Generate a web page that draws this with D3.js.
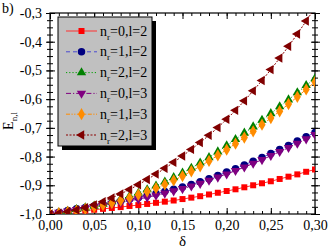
<!DOCTYPE html>
<html>
<head>
<meta charset="utf-8">
<script src="https://cdn.jsdelivr.net/npm/d3@7"></script>
<style>
  html, body { margin: 0; padding: 0; background: #fff; }
</style>
</head>
<body>
<div id="chartContainer"></div>
<script>
// delta values, 0.00 .. 0.30 step 0.01
const deltas = [0.00, 0.01, 0.02, 0.03, 0.04, 0.05, 0.06, 0.07, 0.08, 0.09, 0.10,
  0.11, 0.12, 0.13, 0.14, 0.15, 0.16, 0.17, 0.18, 0.19, 0.20,
  0.21, 0.22, 0.23, 0.24, 0.25, 0.26, 0.27, 0.28, 0.29, 0.30];

// energies
const nr0l2 = [-1.000, -0.997, -0.994, -0.991, -0.988, -0.985, -0.982, -0.979, -0.976, -0.972, -0.969,
  -0.965, -0.961, -0.957, -0.953, -0.948, -0.943, -0.938, -0.932, -0.926, -0.920,
  -0.914, -0.907, -0.900, -0.893, -0.886, -0.878, -0.870, -0.862, -0.853, -0.845];
const nr1l2 = [-1.000, -0.994, -0.988, -0.982, -0.977, -0.972, -0.966, -0.961, -0.955, -0.949, -0.943,
  -0.936, -0.929, -0.922, -0.914, -0.906, -0.897, -0.888, -0.877, -0.866, -0.854,
  -0.842, -0.829, -0.816, -0.803, -0.789, -0.775, -0.761, -0.746, -0.731, -0.716];
const nr2l2 = [-1.000, -0.995, -0.990, -0.984, -0.978, -0.972, -0.965, -0.957, -0.948, -0.938, -0.927,
  -0.915, -0.902, -0.888, -0.873, -0.857, -0.840, -0.822, -0.803, -0.783, -0.762,
  -0.740, -0.718, -0.696, -0.673, -0.650, -0.626, -0.602, -0.577, -0.552, -0.528];
const nr0l3 = [-1.000, -0.995, -0.990, -0.985, -0.980, -0.975, -0.970, -0.965, -0.960, -0.954, -0.948,
  -0.942, -0.935, -0.928, -0.920, -0.912, -0.903, -0.894, -0.883, -0.872, -0.861,
  -0.849, -0.837, -0.824, -0.811, -0.797, -0.783, -0.769, -0.754, -0.739, -0.724];
const nr1l3 = [-1.000, -0.997, -0.993, -0.988, -0.982, -0.976, -0.969, -0.962, -0.953, -0.944, -0.933,
  -0.922, -0.910, -0.897, -0.883, -0.868, -0.851, -0.834, -0.815, -0.796, -0.776,
  -0.755, -0.734, -0.712, -0.689, -0.666, -0.642, -0.617, -0.592, -0.566, -0.540];
const nr2l3 = [-1.000, -0.997, -0.992, -0.986, -0.978, -0.968, -0.957, -0.944, -0.930, -0.915, -0.898,
  -0.880, -0.861, -0.841, -0.820, -0.798, -0.775, -0.751, -0.726, -0.699, -0.670,
  -0.639, -0.606, -0.571, -0.535, -0.497, -0.457, -0.416, -0.373, -0.328, -0.282];

const seriesNames = [['0', '2'], ['1', '2'], ['2', '2'], ['0', '3'], ['1', '3'], ['2', '3']];
const seriesValues = [nr0l2, nr1l2, nr2l2, nr0l3, nr1l3, nr2l3];

const xTicks = [0.00, 0.05, 0.10, 0.15, 0.20, 0.25, 0.30];
const yTicks = [-1.0, -0.9, -0.8, -0.7, -0.6, -0.5, -0.4, -0.3];

const FONT = "'Liberation Serif', 'Times New Roman', Times, serif";

// styles per series
const styles = [
  { line: '#ff3030', fill: '#ff0000', dash: null, marker: d3.symbolSquare, size: 36, rot: 0 },
  { line: '#4a4ad0', fill: '#000080', dash: '4,3', marker: d3.symbolCircle, size: 44, rot: 0 },
  { line: '#00a000', fill: '#008000', dash: '1.2,2', marker: d3.symbolTriangle, size: 38, rot: 0 },
  { line: '#800080', fill: '#800080', dash: '5,2,1.2,2', marker: d3.symbolTriangle, size: 38, rot: 180 },
  { line: '#ff8c00', fill: '#ff8c00', dash: '4,1.5,1.2,1.5,1.2,1.5', marker: d3.symbolDiamond, size: 44, rot: 0 },
  { line: '#8b0000', fill: '#800000', dash: '2,1.5', marker: d3.symbolTriangle, size: 38, rot: -90 }
];

function fmt(v, digits) {
  return v.toFixed(digits).replace('.', ',');
}

function drawChart() {
  const W = 330, H = 250;
  const left = 50, right = 315, top = 13, bottom = 214;

  const svg = d3.select('#chartContainer')
    .append('svg')
    .attr('width', W)
    .attr('height', H)
    .attr('font-family', FONT);

  const x = d3.scaleLinear().domain([0, 0.3]).range([left, right]);
  const y = d3.scaleLinear().domain([-1.0, -0.3]).range([bottom, top]);

  svg.append('defs').append('clipPath').attr('id', 'plotClip')
    .append('rect')
    .attr('x', left).attr('y', top)
    .attr('width', right - left).attr('height', bottom - top);

  // minor ticks
  const xMinor = d3.range(0, 31).map(i => i / 100);
  const yMinor = d3.range(0, 29).map(i => -1.0 + i * 0.025);

  // bottom and top axes, ticks inward
  svg.append('g')
    .attr('transform', `translate(0,${bottom})`)
    .call(d3.axisBottom(x).tickValues(xMinor).tickSize(-3).tickFormat(''))
    .call(g => g.select('.domain').remove());
  svg.append('g')
    .attr('transform', `translate(0,${bottom})`)
    .call(d3.axisBottom(x).tickValues(xTicks).tickSize(-6).tickPadding(9).tickFormat(d => fmt(d, 2)))
    .attr('font-family', FONT)
    .call(g => g.select('.domain').remove())
    .call(g => g.selectAll('text').attr('font-size', 14).attr('fill', '#000').attr('dy', '0.5em'));
  svg.append('g')
    .attr('transform', `translate(0,${top})`)
    .call(d3.axisTop(x).tickValues(xMinor).tickSize(-3).tickFormat(''))
    .call(g => g.select('.domain').remove());
  svg.append('g')
    .attr('transform', `translate(0,${top})`)
    .call(d3.axisTop(x).tickValues(xTicks).tickSize(-6).tickFormat(''))
    .call(g => g.select('.domain').remove());

  // left and right axes, ticks crossing the line
  [left, right].forEach((px, k) => {
    const gMinor = svg.append('g').attr('transform', `translate(${px},0)`)
      .call(d3.axisLeft(y).tickValues(yMinor).tickSize(3).tickFormat(''))
      .call(g => g.select('.domain').remove());
    gMinor.selectAll('.tick line').attr('x1', 3);
    const gMajor = svg.append('g').attr('transform', `translate(${px},0)`)
      .call(d3.axisLeft(y).tickValues(yTicks).tickSize(4).tickPadding(4)
        .tickFormat(k === 0 ? (d => fmt(d, 1)) : ''))
      .attr('font-family', FONT)
      .call(g => g.select('.domain').remove())
      .call(g => g.selectAll('text').attr('font-size', 14).attr('fill', '#000'));
    gMajor.selectAll('.tick line').attr('x1', 5);
  });

  svg.append('rect')
    .attr('x', left).attr('y', top)
    .attr('width', right - left).attr('height', bottom - top)
    .attr('fill', 'none').attr('stroke', '#000').attr('stroke-width', 1.2);

  // series
  const plot = svg.append('g').attr('clip-path', 'url(#plotClip)');
  const line = d3.line()
    .x((d, i) => x(deltas[i]))
    .y(d => y(d));

  seriesValues.forEach((vals, s) => {
    const st = styles[s];
    plot.append('path')
      .datum(vals)
      .attr('fill', 'none')
      .attr('stroke', st.line)
      .attr('stroke-width', 1)
      .attr('stroke-dasharray', st.dash)
      .attr('d', line);
  });
  seriesValues.forEach((vals, s) => {
    const st = styles[s];
    const sym = d3.symbol().type(st.marker).size(st.size);
    plot.append('g').selectAll('path')
      .data(vals)
      .join('path')
      .attr('d', sym)
      .attr('fill', st.fill)
      .attr('transform', (d, i) => `translate(${x(deltas[i])},${y(d)}) rotate(${st.rot})`);
  });

  // legend
  const lx = 58, ly = 17, lw = 94, lh = 129;
  svg.append('rect')
    .attr('x', lx + 4).attr('y', ly + 4).attr('width', lw).attr('height', lh)
    .attr('fill', '#000');
  svg.append('rect')
    .attr('x', lx).attr('y', ly).attr('width', lw).attr('height', lh)
    .attr('fill', '#c0c0c0').attr('stroke', '#000').attr('stroke-width', 1);

  seriesNames.forEach((nm, s) => {
    const st = styles[s];
    const cy = ly + 14 + s * 20.8;
    svg.append('line')
      .attr('x1', lx + 8).attr('x2', lx + 39)
      .attr('y1', cy).attr('y2', cy)
      .attr('stroke', st.line).attr('stroke-width', 1)
      .attr('stroke-dasharray', st.dash);
    svg.append('path')
      .attr('d', d3.symbol().type(st.marker).size(st.size)())
      .attr('fill', st.fill)
      .attr('transform', `translate(${lx + 23.5},${cy}) rotate(${st.rot})`);
    const t = svg.append('text')
      .attr('x', lx + 42).attr('y', cy + 4.5)
      .attr('font-size', 14).attr('fill', '#000');
    t.append('tspan').text('n');
    t.append('tspan').attr('font-size', 9).attr('dy', 4).text('r');
    t.append('tspan').attr('dy', -4).text(`=${nm[0]},l=${nm[1]}`);
  });

  // axis titles
  svg.append('text')
    .attr('x', (left + right) / 2).attr('y', 246)
    .attr('text-anchor', 'middle')
    .attr('font-size', 15).text('δ');

  const yl = svg.append('text')
    .attr('transform', 'translate(13,121) rotate(-90)')
    .attr('text-anchor', 'middle')
    .attr('font-size', 14);
  yl.append('tspan').text('E');
  yl.append('tspan').attr('font-size', 9).attr('dy', 4).text('n,l');

  svg.append('text')
    .attr('x', 2).attr('y', 13)
    .attr('font-size', 14).text('b)');
}

document.addEventListener('DOMContentLoaded', drawChart);
</script>
</body>
</html>
